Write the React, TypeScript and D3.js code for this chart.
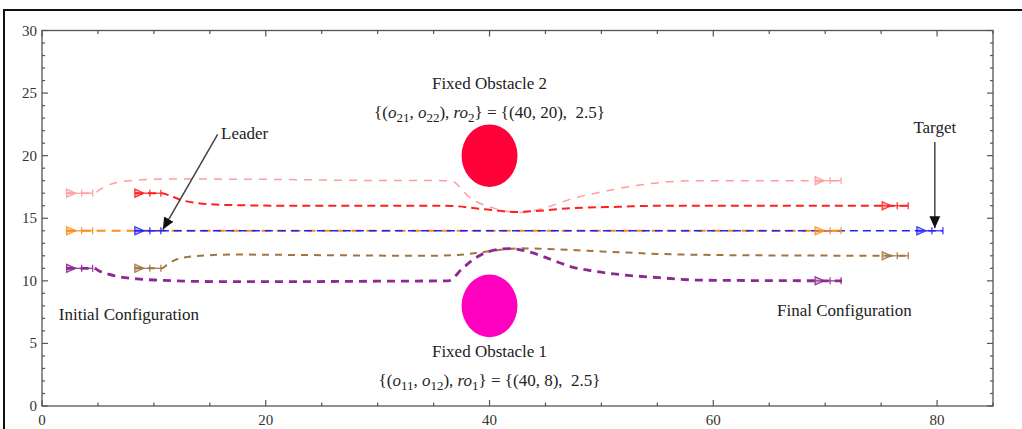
import React from "react";
import * as d3 from "d3";

// agent trajectories [x, y]
const pinkPath: [number, number][] = [
  [2.2, 17], [4.6, 17], [5.2, 17.3], [5.8, 17.6], [7, 17.9], [8.5, 18.05], [11, 18.13],
  [18, 18.12], [28, 18.03], [36.5, 18], [38.3, 16.6], [40.6, 15.75], [42.7, 15.45],
  [45, 15.85], [47.5, 16.6], [50, 17.1], [52.3, 17.5], [55.2, 17.85], [58.5, 18], [71.5, 18],
];
const redPath: [number, number][] = [
  [8.3, 17], [10.7, 17], [11.3, 16.85], [12.3, 16.5], [14, 16.2], [17, 16.05], [22, 16],
  [36, 16], [39.8, 15.7], [42.4, 15.5], [44.5, 15.6], [47.2, 15.8], [51.7, 15.92],
  [55.2, 16], [77.4, 16],
];
const orangePath: [number, number][] = [[2.2, 14], [71.5, 14]];
const bluePath: [number, number][] = [[8.3, 14], [80.5, 14]];
const brownPath: [number, number][] = [
  [8.3, 11], [10.7, 11], [11.2, 11.3], [12, 11.7], [13.5, 11.95], [17, 12.1], [25, 12.05],
  [34, 12], [37, 12.05], [39.8, 12.35], [42.7, 12.6], [45, 12.55], [50, 12.35],
  [55.2, 12.15], [62, 12.05], [77.4, 12],
];
const purplePath: [number, number][] = [
  [2.2, 11], [4.6, 11], [5.2, 10.75], [6.5, 10.4], [8.5, 10.15], [10.5, 10.05], [14, 9.95],
  [20, 9.93], [30, 9.97], [36.3, 10], [37.6, 11], [38.7, 11.8], [39.8, 12.3], [41.8, 12.58],
  [43.6, 12.3], [45.5, 11.7], [47.4, 11.1], [49.5, 10.75], [51.7, 10.5], [55.2, 10.25],
  [59, 10.05], [71.5, 10],
];

// marker (start / end) positions of the agents
const startMarks: [number, number][] = [[2.2, 17], [8.3, 17], [2.2, 14], [8.3, 14], [8.3, 11], [2.2, 11]];
const endMarks: [number, number][] = [[69.1, 18], [75.1, 16], [69.1, 14], [78.2, 14], [75.1, 12], [69.1, 10]];

const agentColors = ["#ff9c9c", "#ff2020", "#ff8c1a", "#2020ff", "#a2743f", "#8c2a92"];
const agentWidths = [1.5, 2, 2, 1.6, 2, 2.8];
const agentDash = ["8,7", "8,5", "9,6", "8,5", "7,6", "8,6"];
const agentPaths = [pinkPath, redPath, orangePath, bluePath, brownPath, purplePath];

// obstacles [cx, cy, r]
const obstacles: [number, number, number][] = [[40, 8, 2.5], [40, 20, 2.5]];
const obstacleColors = ["#ff00bf", "#ff0038"];

const xTicks = [0, 20, 40, 60, 80];
const yTicks = [0, 5, 10, 15, 20, 25, 30];

const W = 1022;
const H = 429;
const left = 42, right = 993, top = 30.5, bottom = 406;

export default function App() {
  const x = d3.scaleLinear().domain([0, 85]).range([left, right]);
  const y = d3.scaleLinear().domain([0, 30]).range([bottom, top]);
  const line = d3
    .line<[number, number]>()
    .x((d) => x(d[0]))
    .y((d) => y(d[1]))
    .curve(d3.curveMonotoneX);

  const xMinor = d3.range(0, 86, 5);
  const yMinor = d3.range(0, 31, 1);
  const axisCol = "#555";
  const textCol = "#222";
  const font = "'Liberation Serif', 'Times New Roman', serif";
  const fs = 17;

  const marker = (p: [number, number], col: string, key: string) => {
    const x0 = x(p[0]);
    const yy = y(p[1]);
    return (
      <g key={key} stroke={col} strokeWidth={1.3} fill="none" opacity={0.9}>
        <path d={`M${x0},${yy - 4}L${x0 + 9},${yy}L${x0},${yy + 4}Z`} fill={col} fillOpacity={0.35} />
        <line x1={x0} x2={x0 + 26} y1={yy} y2={yy} />
        <line x1={x0 + 15} x2={x0 + 15} y1={yy - 3.5} y2={yy + 3.5} />
        <line x1={x0 + 26} x2={x0 + 26} y1={yy - 3.5} y2={yy + 3.5} />
      </g>
    );
  };

  const formula = (a: string, b: string, r: string, vals: string, yy: number) => (
    <text x={x(40)} y={y(yy)} textAnchor="middle" fontSize={fs} fill={textCol} fontFamily={font}>
      {"{("}
      <tspan fontStyle="italic">o</tspan>
      <tspan dy={4} fontSize={13}>{a}</tspan>
      <tspan dy={-4}>{",\u00a0"}</tspan>
      <tspan fontStyle="italic">o</tspan>
      <tspan dy={4} fontSize={13}>{b}</tspan>
      <tspan dy={-4}>{"),\u00a0"}</tspan>
      <tspan fontStyle="italic">ro</tspan>
      <tspan dy={4} fontSize={13}>{r}</tspan>
      <tspan dy={-4}>{"}\u00a0=\u00a0" + vals}</tspan>
    </text>
  );

  return (
    <svg
      width={W}
      height={H}
      style={{ position: "absolute", left: 0, top: 0, background: "#fff" }}
      fontFamily={font}
    >
      <defs>
        <marker id="ah" viewBox="0 0 10 10" refX="10" refY="5" markerWidth="12" markerHeight="12" orient="auto" markerUnits="userSpaceOnUse">
          <path d="M0,0.5L10,5L0,9.5Z" fill="#111" />
        </marker>
      </defs>
      {/* outer frame */}
      <rect x={4} y={10} width={1020} height={430} fill="none" stroke="#111" strokeWidth={2} />

      {/* plot frame */}
      <rect x={left} y={top} width={right - left} height={bottom - top} fill="none" stroke={axisCol} strokeWidth={1.3} />
      {xMinor.map((v) => {
        const len = v % 20 === 0 ? 6 : 3.5;
        return (
          <g key={"xt" + v} stroke={axisCol} strokeWidth={1.2}>
            <line x1={x(v)} x2={x(v)} y1={bottom} y2={bottom - len} />
            <line x1={x(v)} x2={x(v)} y1={top} y2={top + len} />
          </g>
        );
      })}
      {yMinor.map((v) => {
        const len = v % 5 === 0 ? 6 : 3;
        return (
          <g key={"yt" + v} stroke={axisCol} strokeWidth={1.2}>
            <line x1={left} x2={left + len} y1={y(v)} y2={y(v)} />
            <line x1={right} x2={right - len} y1={y(v)} y2={y(v)} />
          </g>
        );
      })}
      {xTicks.map((v) => (
        <text key={"xl" + v} x={x(v)} y={bottom + 19} textAnchor="middle" fontSize={15} fill="#333">
          {v}
        </text>
      ))}
      {yTicks.map((v) => (
        <text key={"yl" + v} x={left - 5} y={y(v) + 5} textAnchor="end" fontSize={15} fill="#333">
          {v}
        </text>
      ))}

      {/* obstacles */}
      {obstacles.map((o, i) => (
        <ellipse
          key={"ob" + i}
          cx={x(o[0])}
          cy={y(o[1])}
          rx={x(o[0] + o[2]) - x(o[0])}
          ry={y(o[1] - o[2]) - y(o[1])}
          fill={obstacleColors[i]}
        />
      ))}

      {/* trajectories */}
      {agentPaths.map((p, i) => (
        <path
          key={"tr" + i}
          d={line(p) || ""}
          fill="none"
          stroke={agentColors[i]}
          strokeWidth={agentWidths[i]}
          strokeDasharray={agentDash[i]}
        />
      ))}
      {startMarks.map((p, i) => marker(p, agentColors[i], "sm" + i))}
      {endMarks.map((p, i) => marker(p, agentColors[i], "em" + i))}

      {/* annotations */}
      <line x1={x(15.7)} y1={y(21.7)} x2={x(10.8)} y2={y(14.1)} stroke="#444" strokeWidth={1.5} markerEnd="url(#ah)" />
      <text x={x(16)} y={y(21.3)} fontSize={fs} fill={textCol}>Leader</text>
      <line x1={x(79.8)} y1={y(21.1)} x2={x(79.8)} y2={y(14.2)} stroke="#444" strokeWidth={1.5} markerEnd="url(#ah)" />
      <text x={x(79.8)} y={y(21.8)} fontSize={fs} fill={textCol} textAnchor="middle">Target</text>

      <text x={x(40)} y={y(25.3)} textAnchor="middle" fontSize={fs} fill={textCol}>Fixed Obstacle 2</text>
      {formula("21", "22", "2", "{(40,\u00a020),\u00a0\u00a02.5}", 23)}
      <text x={x(40)} y={y(3.9)} textAnchor="middle" fontSize={fs} fill={textCol}>Fixed Obstacle 1</text>
      {formula("11", "12", "1", "{(40,\u00a08),\u00a0\u00a02.5}", 1.6)}

      <text x={x(1.5)} y={y(6.9)} fontSize={fs} fill={textCol}>Initial Configuration</text>
      <text x={x(65.7)} y={y(7.2)} fontSize={fs} fill={textCol}>Final Configuration</text>
    </svg>
  );
}
